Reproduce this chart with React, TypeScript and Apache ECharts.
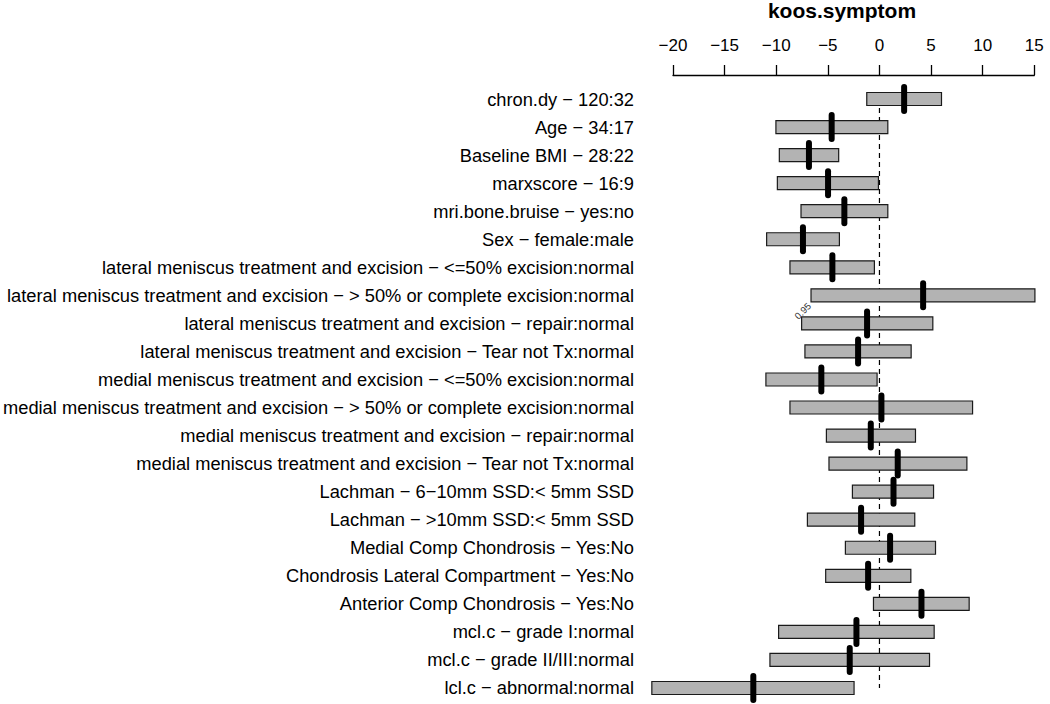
import React, { useEffect, useRef } from "react";
import * as echarts from "echarts";

const labels: string[] = [
  "chron.dy \u2212 120:32",
  "Age \u2212 34:17",
  "Baseline BMI \u2212 28:22",
  "marxscore \u2212 16:9",
  "mri.bone.bruise \u2212 yes:no",
  "Sex \u2212 female:male",
  "lateral meniscus treatment and excision \u2212 <=50% excision:normal",
  "lateral meniscus treatment and excision \u2212 > 50% or complete excision:normal",
  "lateral meniscus treatment and excision \u2212 repair:normal",
  "lateral meniscus treatment and excision \u2212 Tear not Tx:normal",
  "medial meniscus treatment and excision \u2212 <=50% excision:normal",
  "medial meniscus treatment and excision \u2212 > 50% or complete excision:normal",
  "medial meniscus treatment and excision \u2212 repair:normal",
  "medial meniscus treatment and excision \u2212 Tear not Tx:normal",
  "Lachman \u2212 6\u221210mm SSD:< 5mm SSD",
  "Lachman \u2212 >10mm SSD:< 5mm SSD",
  "Medial Comp Chondrosis \u2212 Yes:No",
  "Chondrosis Lateral Compartment \u2212 Yes:No",
  "Anterior Comp Chondrosis \u2212 Yes:No",
  "mcl.c \u2212 grade I:normal",
  "mcl.c \u2212 grade II/III:normal",
  "lcl.c \u2212 abnormal:normal",
];

const estimates: number[] = [
  2.39, -4.63, -6.83, -4.98, -3.4, -7.41, -4.56, 4.23, -1.2, -2.07, -5.63,
  0.19, -0.84, 1.77, 1.36, -1.78, 1.03, -1.1, 4.07, -2.23, -2.88, -12.22,
];

const lower: number[] = [
  -1.23, -10.03, -9.7, -9.89, -7.6, -10.93, -8.67, -6.63, -7.54, -7.22, -11.0,
  -8.67, -5.14, -4.89, -2.62, -6.98, -3.3, -5.21, -0.58, -9.77, -10.61, -22.05,
];

const upper: number[] = [
  6.01, 0.81, -3.95, -0.1, 0.81, -3.88, -0.49, 15.06, 5.17, 3.07, -0.23, 9.02,
  3.49, 8.47, 5.24, 3.42, 5.43, 3.04, 8.69, 5.3, 4.85, -2.46,
];

const tickValues: number[] = [-20, -15, -10, -5, 0, 5, 10, 15];
const chartTitle = "koos.symptom";
const confLabel = "0.95";
const confRow = 8;

const FONT = "'Liberation Sans', Arial, Helvetica, sans-serif";

export default function App() {
  const ref = useRef<HTMLDivElement>(null);

  useEffect(() => {
    if (!ref.current) return;
    const chart = echarts.init(ref.current, undefined, { renderer: "svg" });

    const barData = labels.map((_, i) => [i, lower[i], upper[i], estimates[i]]);

    const option: any = {
      animation: false,
      backgroundColor: "#ffffff",
      textStyle: { fontFamily: FONT },
      grid: {
        left: 673,
        right: 15.7,
        top: 85,
        bottom: 2,
        containLabel: false,
        outerBoundsMode: "none",
      },
      xAxis: {
        type: "value",
        position: "top",
        min: -20,
        max: 15,
        interval: 5,
        offset: 10,
        axisLine: { show: true, lineStyle: { color: "#000", width: 1.3 } },
        axisTick: {
          show: true,
          length: 10,
          inside: false,
          lineStyle: { color: "#000", width: 1.3 },
          customValues: tickValues,
        },
        axisLabel: {
          show: true,
          margin: 21,
          fontSize: 17,
          color: "#000",
          fontFamily: FONT,
          customValues: tickValues,
          formatter: (v: number) => (v < 0 ? "\u2212" + Math.abs(v) : String(v)),
        },
        splitLine: { show: false },
      },
      yAxis: {
        type: "category",
        inverse: true,
        data: labels,
        axisLine: { show: false },
        axisTick: { show: false },
        splitLine: { show: false },
        axisLabel: {
          interval: 0,
          margin: 39,
          fontSize: 18.3,
          color: "#000",
          fontFamily: FONT,
        },
      },
      graphic: [
        {
          type: "text",
          x: 842,
          y: 10,
          style: {
            text: chartTitle,
            textAlign: "center",
            textVerticalAlign: "middle",
            fontSize: 21,
            fontWeight: "bold",
            fontFamily: FONT,
            fill: "#000",
          },
        },
      ],
      series: [
        {
          type: "custom",
          z: 1,
          clip: false,
          data: [[0]],
          encode: { x: 0 },
          renderItem: (params: any, api: any) => {
            const top = api.coord([0, 0]);
            const bot = api.coord([0, labels.length - 1]);
            return {
              type: "line",
              shape: { x1: top[0], y1: top[1], x2: bot[0], y2: bot[1] },
              style: { stroke: "#000", lineWidth: 1.2, lineDash: [5, 4] },
            };
          },
        },
        {
          type: "custom",
          z: 2,
          clip: false,
          data: barData,
          encode: { y: 0, x: [1, 2, 3] },
          renderItem: (params: any, api: any) => {
            const i = api.value(0);
            const p0 = api.coord([api.value(1), i]);
            const p1 = api.coord([api.value(2), i]);
            const pe = api.coord([api.value(3), i]);
            const children: any[] = [
              {
                type: "rect",
                shape: { x: p0[0], y: p0[1] - 6.5, width: p1[0] - p0[0], height: 13 },
                style: { fill: "#b3b3b3", stroke: "#1a1a1a", lineWidth: 1.2 },
              },
              {
                type: "line",
                shape: { x1: pe[0], y1: pe[1] - 12, x2: pe[0], y2: pe[1] + 12 },
                style: { stroke: "#000", lineWidth: 6, lineCap: "round" },
              },
            ];
            if (i === confRow) {
              children.push({
                type: "text",
                x: p0[0] + 1,
                y: p0[1] - 12.5,
                rotation: Math.PI / 4,
                style: {
                  text: confLabel,
                  fontSize: 9.5,
                  fontFamily: FONT,
                  fill: "#333",
                  textAlign: "center",
                  textVerticalAlign: "middle",
                },
              });
            }
            return { type: "group", children };
          },
        },
      ],
    };

    chart.setOption(option);
    return () => chart.dispose();
  }, []);

  return (
    <div
      ref={ref}
      style={{ position: "absolute", left: 0, top: 0, width: 1050, height: 704 }}
    />
  );
}
